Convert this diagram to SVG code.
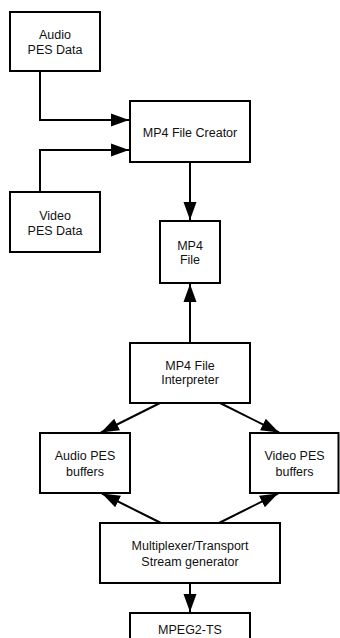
<svg xmlns="http://www.w3.org/2000/svg" width="340" height="638" viewBox="0 0 340 638">
  <style>
    .box { fill: #ffffff; stroke: #000000; stroke-width: 2; }
    .lbl { font-family: "Liberation Sans", Arial, sans-serif; font-size: 12.5px; fill: #111111; text-anchor: middle; }
    .wire { fill: none; stroke: #000000; stroke-width: 2; marker-end: url(#head); }
  </style>
  <defs>
    <marker id="head" markerUnits="userSpaceOnUse" markerWidth="18" markerHeight="14" refX="18" refY="7" orient="auto">
      <path d="M0,0.5 L18,7 L0,13.5 z" fill="#000000"/>
    </marker>
  </defs>
  <rect width="340" height="638" fill="#ffffff"/>

  <g id="connectors">
    <path class="wire" d="M40,71 V120 H129"/>
    <path class="wire" d="M40,192 V150 H129"/>
    <path class="wire" d="M190,162 V220"/>
    <path class="wire" d="M190,343 V284"/>
    <path class="wire" d="M160,403 L101,432.5"/>
    <path class="wire" d="M220,403 L279,432.5"/>
    <path class="wire" d="M161,523 L102,493.5"/>
    <path class="wire" d="M219,523 L278,493.5"/>
    <path class="wire" d="M190,583 V612"/>
  </g>

  <g id="audio-pes-data">
    <rect class="box" x="10" y="12" width="90" height="59"/>
    <text class="lbl" x="55" y="38.5">Audio</text>
    <text class="lbl" x="55" y="54">PES Data</text>
  </g>

  <g id="mp4-file-creator">
    <rect class="box" x="130" y="101" width="120" height="61"/>
    <text class="lbl" x="190" y="136.5">MP4 File Creator</text>
  </g>

  <g id="video-pes-data">
    <rect class="box" x="10" y="192" width="90" height="60"/>
    <text class="lbl" x="55" y="220">Video</text>
    <text class="lbl" x="55" y="234.5">PES Data</text>
  </g>

  <g id="mp4-file">
    <rect class="box" x="160" y="221" width="60" height="62"/>
    <text class="lbl" x="190" y="250">MP4</text>
    <text class="lbl" x="190" y="264">File</text>
  </g>

  <g id="mp4-file-interpreter">
    <rect class="box" x="130" y="343" width="120" height="60"/>
    <text class="lbl" x="190" y="370">MP4 File</text>
    <text class="lbl" x="190" y="384">Interpreter</text>
  </g>

  <g id="audio-pes-buffers">
    <rect class="box" x="40" y="433" width="90" height="60"/>
    <text class="lbl" x="85" y="460">Audio PES</text>
    <text class="lbl" x="85" y="476">buffers</text>
  </g>

  <g id="video-pes-buffers">
    <rect class="box" x="250" y="433" width="88.5" height="60"/>
    <text class="lbl" x="294.5" y="460">Video PES</text>
    <text class="lbl" x="294.5" y="476">buffers</text>
  </g>

  <g id="mux-ts-generator">
    <rect class="box" x="100" y="523" width="180" height="60"/>
    <text class="lbl" x="190" y="550">Multiplexer/Transport</text>
    <text class="lbl" x="190" y="565.5">Stream generator</text>
  </g>

  <g id="mpeg2-ts">
    <rect class="box" x="130" y="613" width="120" height="60"/>
    <text class="lbl" x="190" y="634">MPEG2-TS</text>
  </g>
</svg>
